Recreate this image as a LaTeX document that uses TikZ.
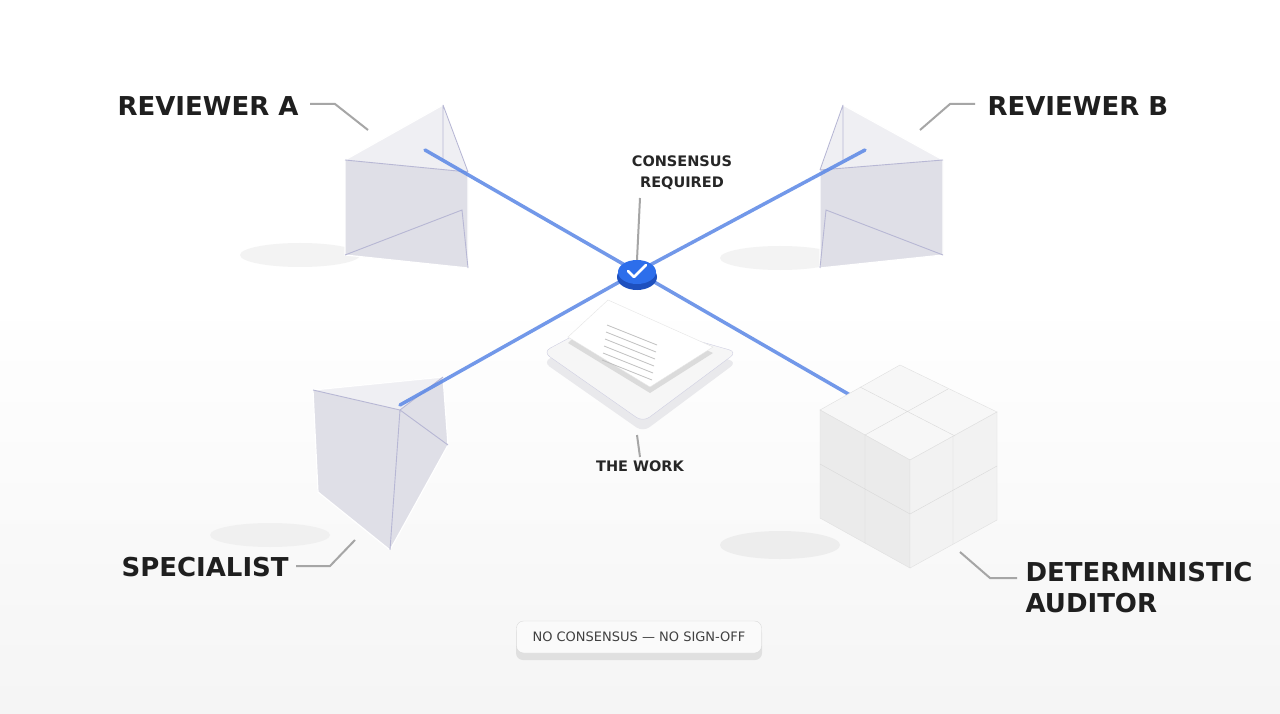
\documentclass[tikz,border=0pt]{standalone}
\usepackage{fontspec}
\setmainfont{DejaVu Sans}
\usetikzlibrary{calc,shapes.geometric}
\definecolor{badgeblue}{RGB}{45,110,235}
\definecolor{badgedark}{RGB}{30,80,190}
\definecolor{beamblue}{RGB}{90,135,230}
\begin{document}
\begin{tikzpicture}[x=1pt,y=-1pt,
  lbl/.style={font=\bfseries\fontsize{26}{31}\selectfont, text=black!88, align=left},
  small/.style={font=\bfseries\fontsize{14.5}{21}\selectfont, text=black!85, align=center},
  lead/.style={draw=black!35, line width=2pt},
  beam/.style={draw=beamblue, opacity=0.85, line width=3.5pt, line cap=round},
  glass/.style={fill=blue!14!gray!22, draw=white, line width=1.2pt},
  glassedge/.style={draw=blue!25!gray!45, line width=0.9pt},
]
\fill[white] (0,0) rectangle (1280,714);
\useasboundingbox (0,0) rectangle (1280,714);
\shade[top color=white, bottom color=black!4] (0,300) rectangle (1280,714);
% shadows
\fill[black!8, opacity=0.6] (300,255) ellipse (60 and 12);
\fill[black!8, opacity=0.6] (780,258) ellipse (60 and 12);
\fill[black!8, opacity=0.6] (270,535) ellipse (60 and 12);
\fill[black!10, opacity=0.6] (780,545) ellipse (60 and 14);
% beams
\coordinate (ra) at (425,150);
\coordinate (rb) at (865,150);
\coordinate (sp) at (400,405);
\coordinate (au) at (850,395);
\node[inner sep=0] (hub) at (637,272) {};
% prism A
\path[glass] (345,160) -- (443,105) -- (468,172) -- (468,268) -- (345,255) -- cycle;
\fill[white, opacity=0.5] (345,160) -- (443,105) -- (468,172) -- cycle;
\draw[glassedge] (345,160) -- (468,172) (443,105) -- (468,172) (345,255) -- (462,210) -- (468,268) (443,105)--(443,160);
% prism B
\path[glass] (820,170) -- (843,105) -- (943,160) -- (943,255) -- (820,268) -- cycle;
\fill[white, opacity=0.5] (820,170) -- (843,105) -- (943,160) -- cycle;
\draw[glassedge] (820,170) -- (943,160) (843,105) -- (820,170) (943,255) -- (826,210) -- (820,268) (843,105)--(843,160);
% prism specialist
\path[glass] (313,390) -- (443,377) -- (448,445) -- (390,550) -- (318,492) -- cycle;
\fill[white, opacity=0.5] (313,390) -- (443,377) -- (400,410) -- cycle;
\draw[glassedge] (313,390) -- (400,410) -- (443,377) (400,410) -- (390,550) (400,410)--(448,445);
\draw[beam] (ra) -- (hub.center) -- (au);
\draw[beam] (rb) -- (hub.center) -- (sp);
% tray and paper
\fill[blue!6!gray!16, rounded corners=8] (543,362) -- (610,326) -- (737,362) -- (643,432) -- cycle;
\fill[blue!4!gray!7, draw=blue!25!gray!30, rounded corners=8] (543,352) -- (610,316) -- (737,352) -- (643,422) -- cycle;
\fill[black!14] (568,343) -- (608,306) -- (713,353) -- (650,393) -- cycle;
\fill[white, draw=black!10] (568,337) -- (608,300) -- (713,347) -- (650,387) -- cycle;
\foreach \i in {0,...,5} \draw[black!25, line width=0.8pt] ($(597,328)+(\i*-1,\i*7)$) ++(10,-3) -- ++(50,20);
% hub badge
\fill[badgedark] (637,277) ellipse (20 and 13);
\node[fill=badgeblue, ellipse, minimum width=38pt, minimum height=24pt, inner sep=0] (badge) at (637,272) {};
\draw[white, line width=2.5pt, line cap=round, line join=round] (628,271) -- (634,277) -- (646,265);
% cube
\fill[black!3, draw=black!12] (820,410) -- (900,365) -- (997,412) -- (910,460) -- cycle;
\fill[black!8, draw=black!12] (820,410) -- (910,460) -- (910,568) -- (820,518) -- cycle;
\fill[black!5, draw=black!12] (910,460) -- (997,412) -- (997,520) -- (910,568) -- cycle;
\draw[black!15] (860,387) -- (955,436) (948,389) -- (865,435) (865,435) -- (865,543) (820,464) -- (910,514) (953,436) -- (953,544) (910,514) -- (997,466);
% labels
\node[lbl, anchor=west] (la) at (114,106) {REVIEWER A};
\node[lbl, anchor=west] (lb) at (984,106) {REVIEWER B};
\node[lbl, anchor=west] (ls) at (118,567) {SPECIALIST};
\node[lbl, anchor=west] (ld) at (1022,588) {DETERMINISTIC\\AUDITOR};
\coordinate (pa) at (368,130);
\coordinate (pb) at (920,130);
\coordinate (ps) at (355,540);
\coordinate (pd) at (960,552);
\draw[lead] (310,104) -- (335,104) -- (pa);
\draw[lead] (975,104) -- (950,104) -- (pb);
\draw[lead] (296,566) -- (330,566) -- (ps);
\draw[lead] (1017,578) -- (990,578) -- (pd);
\node[small] (cr) at (682,173) {CONSENSUS\\REQUIRED};
\draw[lead] (640,198) -- (badge.north);
\node[small] (tw) at (640,466) {THE WORK};
\draw[lead] (637,435) -- (tw.north);
\fill[black!12, rounded corners=7] (516,626) rectangle (762,660);
\node[draw=black!15, fill=black!2, rounded corners=7, minimum width=245pt, minimum height=32pt, font=\fontsize{13}{15}\selectfont, text=black!75] (pill) at (639,637) {NO CONSENSUS — NO SIGN-OFF};
\end{tikzpicture}
\end{document}
